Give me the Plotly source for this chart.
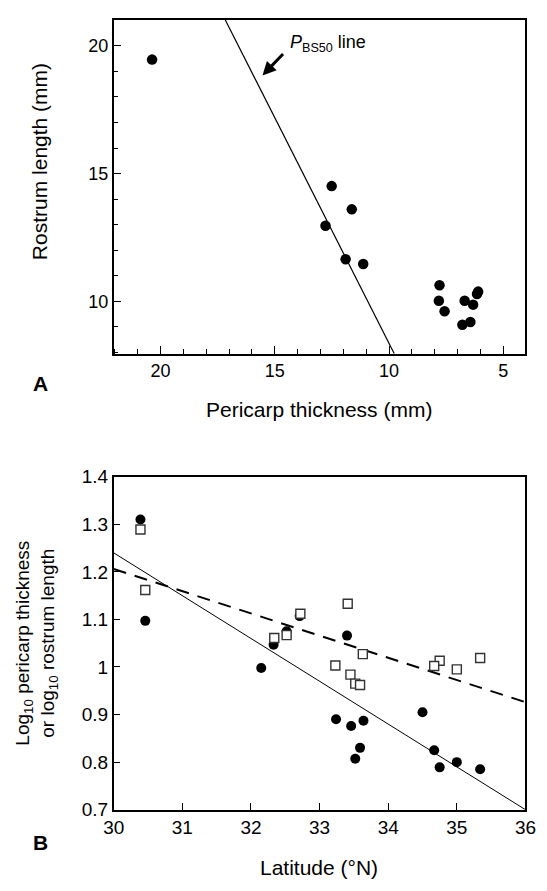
import plotly.graph_objects as go

# ---------------- Panel A data ----------------
pericarp_mm = [20.37, 12.51, 11.63, 12.78, 11.90, 11.13, 7.79, 7.82, 7.57, 6.69, 6.79, 6.44, 6.32, 6.15, 6.10]
rostrum_mm = [19.46, 14.51, 13.60, 12.96, 11.65, 11.46, 10.63, 10.02, 9.61, 10.02, 9.08, 9.19, 9.87, 10.29, 10.38]
pbs50_x = [17.17, 9.77]
pbs50_y = [21.02, 7.95]
a_xticks = [20, 15, 10, 5]
a_yticks = [10, 15, 20]

# ---------------- Panel B data ----------------
lat_circ = [30.39, 30.46, 32.15, 32.33, 32.52, 32.71, 33.24, 33.40, 33.46, 33.52, 33.59, 33.64, 34.50, 34.67, 34.75, 35.00, 35.34]
log_peri = [1.310, 1.097, 0.998, 1.047, 1.075, 1.107, 0.890, 1.066, 0.876, 0.807, 0.830, 0.887, 0.905, 0.825, 0.789, 0.800, 0.785]
lat_sq = [30.39, 30.46, 32.34, 32.52, 32.72, 33.23, 33.41, 33.45, 33.52, 33.59, 33.63, 34.75, 34.67, 35.00, 35.34]
log_rost = [1.289, 1.162, 1.061, 1.067, 1.112, 1.003, 1.133, 0.984, 0.965, 0.962, 1.027, 1.013, 1.002, 0.995, 1.019]
fit_peri_x = [30, 36]
fit_peri_y = [1.240, 0.700]
fit_rost_x = [30, 36]
fit_rost_y = [1.206, 0.926]
b_xticks = [30, 31, 32, 33, 34, 35, 36]
b_yticks = [0.7, 0.8, 0.9, 1.0, 1.1, 1.2, 1.3, 1.4]
b_yticktext = ["0.7", "0.8", "0.9", "1", "1.1", "1.2", "1.3", "1.4"]

W, H = 547, 891
FONT = "Liberation Sans, Arial, sans-serif"


def px(x):
    return x / W


def py(y):
    return 1 - y / H


fig = go.Figure()

# Panel A
fig.add_trace(go.Scatter(x=pbs50_x, y=pbs50_y, mode="lines",
                         line=dict(color="black", width=1.2),
                         xaxis="x", yaxis="y", showlegend=False, hoverinfo="skip"))
fig.add_trace(go.Scatter(x=pericarp_mm, y=rostrum_mm, mode="markers",
                         marker=dict(symbol="circle", size=10.5, color="black"),
                         xaxis="x", yaxis="y", showlegend=False))

# Panel B
fig.add_trace(go.Scatter(x=fit_peri_x, y=fit_peri_y, mode="lines",
                         line=dict(color="black", width=1),
                         xaxis="x2", yaxis="y2", showlegend=False, hoverinfo="skip"))
fig.add_trace(go.Scatter(x=fit_rost_x, y=fit_rost_y, mode="lines",
                         line=dict(color="black", width=2, dash="13px,9px"),
                         xaxis="x2", yaxis="y2", showlegend=False, hoverinfo="skip"))
fig.add_trace(go.Scatter(x=lat_circ, y=log_peri, mode="markers",
                         marker=dict(symbol="circle", size=10, color="black"),
                         xaxis="x2", yaxis="y2", showlegend=False))
fig.add_trace(go.Scatter(x=lat_sq, y=log_rost, mode="markers",
                         marker=dict(symbol="square", size=9, color="white",
                                     line=dict(color="#333333", width=1.4)),
                         xaxis="x2", yaxis="y2", showlegend=False))

axis_common = dict(showgrid=False, zeroline=False, showline=True, linecolor="black",
                   linewidth=1.5, mirror=True, ticks="inside", tickcolor="black",
                   tickwidth=1.2)

xdom = [px(107), px(536)]

fig.update_layout(
    width=W, height=H,
    margin=dict(l=0, r=0, t=0, b=0),
    paper_bgcolor="white", plot_bgcolor="white",
    font=dict(family=FONT, color="black"),
    xaxis=dict(domain=xdom, anchor="y", range=[22.05, 4.03],
               tickvals=a_xticks, ticklen=8,
               minor=dict(dtick=1, ticklen=5, ticks="inside", tickcolor="black", tickwidth=1.2),
               tickfont=dict(size=18), **axis_common),
    yaxis=dict(domain=[py(352), py(10)], anchor="x", range=[7.95, 21.02],
               tickvals=a_yticks, ticklen=8,
               minor=dict(dtick=1, ticklen=5, ticks="inside", tickcolor="black", tickwidth=1.2),
               tickfont=dict(size=18), **axis_common),
    xaxis2=dict(domain=xdom, anchor="y2", range=[30, 36],
                tickvals=b_xticks, ticklen=7,
                tickfont=dict(size=19), **axis_common),
    yaxis2=dict(domain=[py(819), py(478)], anchor="x2", range=[0.7, 1.4],
                tickvals=b_yticks, ticktext=b_yticktext, ticklen=7,
                tickfont=dict(size=19), **axis_common),
)

ann = []
# axis titles
ann.append(dict(text="Rostrum length (mm)", x=px(30), y=py(155), xref="paper", yref="paper",
                textangle=-90, showarrow=False, font=dict(size=21), xanchor="center", yanchor="middle"))
ann.append(dict(text="Pericarp thickness (mm)", x=px(321), y=py(409), xref="paper", yref="paper",
                showarrow=False, font=dict(size=21), xanchor="center", yanchor="middle"))
ann.append(dict(text="Log<sub>10</sub> pericarp thickness<br>or log<sub>10</sub> rostrum length",
                x=px(27), y=py(648), xref="paper", yref="paper", textangle=-90, showarrow=False,
                font=dict(size=19), xanchor="center", yanchor="middle"))
ann.append(dict(text="Latitude (°N)", x=px(321), y=py(878), xref="paper", yref="paper",
                showarrow=False, font=dict(size=21), xanchor="center", yanchor="middle"))
# panel letters
ann.append(dict(text="<b>A</b>", x=px(31), y=py(383), xref="paper", yref="paper",
                showarrow=False, font=dict(size=21), xanchor="center", yanchor="middle"))
ann.append(dict(text="<b>B</b>", x=px(31), y=py(853), xref="paper", yref="paper",
                showarrow=False, font=dict(size=21), xanchor="center", yanchor="middle"))
# PBS50 label and arrow
ann.append(dict(text="<i>P</i><sub>BS50</sub> line", x=px(289), y=py(34), xref="paper", yref="paper",
                showarrow=False, font=dict(size=18), xanchor="left", yanchor="middle"))
ann.append(dict(text="", x=px(262), y=py(67), xref="paper", yref="paper",
                showarrow=True, ax=22, ay=-23, axref="pixel", ayref="pixel",
                arrowhead=2, arrowsize=0.9, arrowwidth=3, arrowcolor="black"))
fig.update_layout(annotations=ann)

fig.write_html("out.html",
               config={"displayModeBar": False},
               post_script="document.body.style.margin='0';document.body.style.padding='0';")
